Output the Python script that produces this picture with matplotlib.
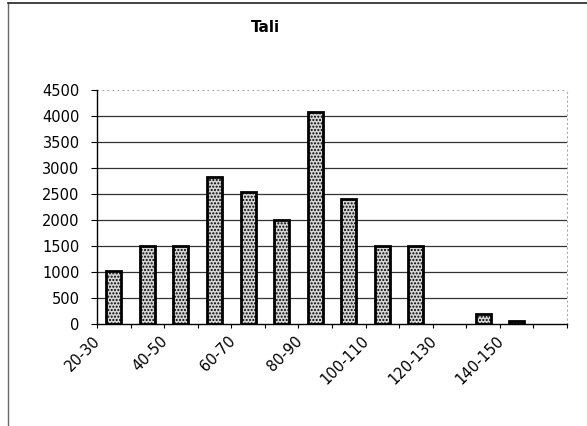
import numpy as np
import matplotlib.pyplot as plt
from matplotlib.lines import Line2D

plt.rcParams['font.family'] = ['DejaVu Sans']
plt.rcParams['hatch.color'] = '#9a9a9a'

# length classes and counts
classi = ['20-30', '30-40', '40-50', '50-60', '60-70', '70-80', '80-90',
          '90-100', '100-110', '110-120', '120-130', '130-140', '140-150', '150-160']
conteggi = [1020, 1500, 1500, 2830, 2530, 2000, 4080,
            2400, 1500, 1500, 0, 190, 60, 0]
yticks = [0, 500, 1000, 1500, 2000, 2500, 3000, 3500, 4000, 4500]

fig = plt.figure(figsize=(5.87, 4.26), dpi=100)
ax = fig.add_axes([97/587, 1-324/426, 470/587, 234/426])

x = np.arange(len(classi))
h = np.array(conteggi)
lw = np.where(h > 0, 2.0, 0.0)  # empty classes get no outline
ax.bar(x, h, width=0.45, color='#d6d6d6', edgecolor='black',
       linewidth=lw, hatch='.....', zorder=3)

ax.set_xlim(-0.5, len(classi) - 0.5)
ax.set_ylim(0, 4500)
ax.set_yticks(yticks)
ax.set_yticklabels([str(v) for v in yticks], fontsize=10.5)
for v in yticks[1:-1]:
    ax.axhline(v, color='#333333', lw=0.9, zorder=1)
ax.axhline(4500, color='#888888', lw=0.6, ls=(0, (2, 4)), zorder=1)

ax.set_xticks(np.arange(len(classi) + 1) - 0.5)
ax.set_xticklabels([])
ax.tick_params(axis='x', direction='out', length=3, width=0.8)
ax.tick_params(axis='y', direction='out', length=4, width=0.8, pad=8.5)

# rotated class labels, every other class
for i in range(0, len(classi), 2):
    ax.text(i - 0.62, -0.04, classi[i], rotation=45, ha='right', va='top',
            rotation_mode='anchor', fontsize=10.5,
            transform=ax.get_xaxis_transform())

ax.spines['top'].set_visible(False)
ax.spines['right'].set_color('#aaaaaa')
ax.spines['right'].set_linestyle((0, (1, 3)))
ax.spines['left'].set_linewidth(1.0)
ax.spines['bottom'].set_linewidth(1.0)

fig.text(265/587, 1-27/426, 'Tali', ha='center', va='center',
         fontsize=11, fontweight='bold')

# chart frame
fig.add_artist(Line2D([8/587, 8/587], [0, 1-3/426], color='#666666', lw=1.0))
fig.add_artist(Line2D([8/587, 1], [1-3/426, 1-3/426], color='#222222', lw=1.2))

fig.savefig('out.png', dpi=100)
